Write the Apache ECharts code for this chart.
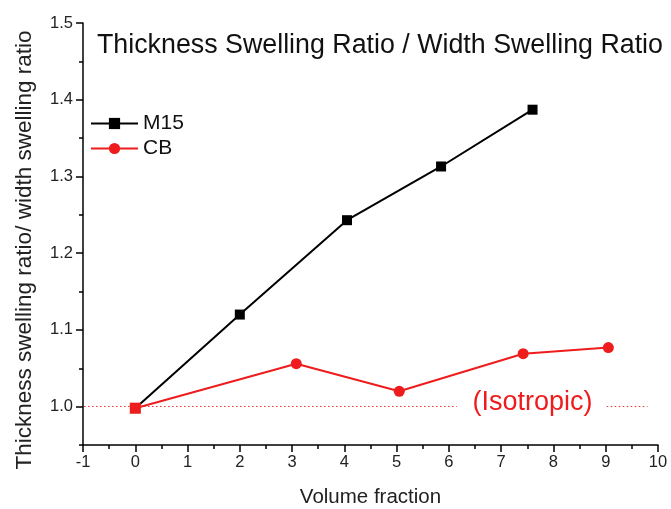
<!DOCTYPE html>
<html>
<head>
<meta charset="utf-8">
<script src="https://cdn.jsdelivr.net/npm/echarts@6/dist/echarts.min.js"></script>
<style>
  html, body { margin: 0; padding: 0; background: #fff; }
  #chart { width: 671px; height: 509px; }
</style>
</head>
<body>
<div id="chart"></div>
<script>
// Volume fraction (x) and thickness/width swelling ratio (y) for each sample set
const m15X = [0, 2, 4.05, 5.85, 7.6];
const m15Y = [0.998, 1.12, 1.243, 1.313, 1.387];
const cbX = [0, 3.08, 5.05, 7.42, 9.05];
const cbY = [0.998, 1.056, 1.02, 1.069, 1.077];

const yMajorTicks = [1.0, 1.1, 1.2, 1.3, 1.4, 1.5];
const yMinorTicks = [0.95, 1.05, 1.15, 1.25, 1.35, 1.45];

// Isotropic reference level and the dotted segments drawn around its label
const isoLevel = 1.0;
const isoSegments = [[-0.98, 6.15], [9.02, 9.8]];
const isoLabelX = 7.6;

const RED = '#ee1c1c';
const FONT = 'Liberation Sans, Arial, sans-serif';

const pairs = (xs, ys) => xs.map((x, i) => [x, ys[i]]);

const chart = echarts.init(document.getElementById('chart'), null, { renderer: 'canvas' });

chart.setOption({
  animation: false,
  backgroundColor: '#ffffff',
  textStyle: { fontFamily: FONT },
  title: {
    text: 'Thickness Swelling Ratio / Width Swelling Ratio',
    left: 97,
    top: 32,
    padding: 0,
    textStyle: { fontFamily: FONT, fontSize: 26.8, fontWeight: 'normal', color: '#111' }
  },
  legend: {
    orient: 'vertical',
    left: 90,
    top: 113,
    padding: 0,
    itemWidth: 47,
    itemHeight: 14,
    itemGap: 4,
    textStyle: { fontFamily: FONT, fontSize: 21, color: '#111' },
    data: ['M15', 'CB']
  },
  grid: { left: 83, right: 13, top: 23, bottom: 64, containLabel: false, outerBoundsMode: 'none' },
  xAxis: {
    type: 'value',
    min: -1,
    max: 10,
    interval: 1,
    name: 'Volume fraction',
    nameLocation: 'middle',
    nameGap: 42,
    nameTextStyle: { fontFamily: FONT, fontSize: 20.5, color: '#222' },
    axisLine: { onZero: false, lineStyle: { color: '#000', width: 1.5 } },
    axisTick: { inside: false, length: 7, lineStyle: { color: '#000', width: 1.5 } },
    minorTick: { show: true, splitNumber: 2, length: 4, lineStyle: { color: '#000', width: 1.5 } },
    axisLabel: { fontFamily: FONT, fontSize: 16.5, color: '#222', margin: 9 },
    splitLine: { show: false }
  },
  yAxis: [
    {
      type: 'value',
      min: 0.95,
      max: 1.5,
      name: 'Thickness swelling ratio/ width swelling ratio',
      nameLocation: 'middle',
      nameGap: 47,
      nameTextStyle: { fontFamily: FONT, fontSize: 22.5, color: '#222', padding: [0, 32, 0, 0] },
      axisLine: { onZero: false, lineStyle: { color: '#000', width: 1.5 } },
      axisTick: { inside: false, length: 7, customValues: yMajorTicks, lineStyle: { color: '#000', width: 1.5 } },
      axisLabel: {
        fontFamily: FONT, fontSize: 16.5, color: '#222', margin: 10,
        customValues: yMajorTicks,
        formatter: v => v.toFixed(1)
      },
      splitLine: { show: false }
    },
    {
      // carries only the short ticks between labelled values
      type: 'value',
      position: 'left',
      min: 0.95,
      max: 1.5,
      axisLine: { show: false, onZero: false },
      axisTick: { inside: false, length: 4, customValues: yMinorTicks, lineStyle: { color: '#000', width: 1.5 } },
      axisLabel: { show: false },
      splitLine: { show: false }
    }
  ],
  series: [
    {
      name: 'M15',
      type: 'line',
      data: pairs(m15X, m15Y),
      symbol: 'rect',
      symbolSize: 10,
      itemStyle: { color: '#000' },
      lineStyle: { color: '#000', width: 2 },
      z: 3
    },
    {
      name: 'CB',
      type: 'line',
      data: pairs(cbX, cbY),
      symbol: (value, params) => (params.dataIndex === 0 ? 'rect' : 'circle'),
      symbolSize: 11,
      itemStyle: { color: RED },
      lineStyle: { color: RED, width: 2 },
      z: 4,
      markLine: {
        silent: true,
        symbol: ['none', 'none'],
        label: { show: false },
        emphasis: { disabled: true },
        lineStyle: { color: '#f03030', type: [1.5, 2.5], width: 1, opacity: 1 },
        data: isoSegments.map(([a, b]) => [
          { coord: [a, isoLevel] },
          { coord: [b, isoLevel] }
        ])
      },
      markPoint: {
        silent: true,
        symbol: 'circle',
        symbolSize: 1,
        itemStyle: { color: 'rgba(0,0,0,0)' },
        label: {
          show: true,
          position: 'inside',
          offset: [0, -4],
          formatter: '(Isotropic)',
          fontFamily: FONT,
          fontSize: 27,
          color: RED
        },
        data: [{ coord: [isoLabelX, isoLevel] }]
      }
    }
  ]
});
</script>
</body>
</html>
